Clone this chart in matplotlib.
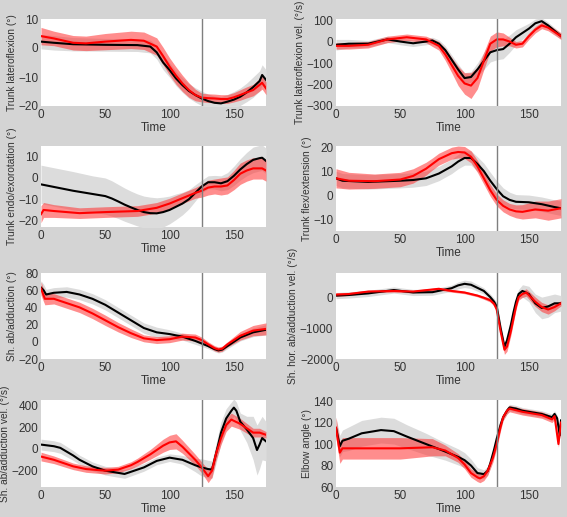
import numpy as np
import matplotlib
matplotlib.use("Agg")
import matplotlib.pyplot as plt

plt.rcParams['font.family'] = ['Liberation Sans', 'DejaVu Sans']

BG = '#d4d4d4'
GREY_BAND = '#dcdcdc'
RED_BAND = '#ff3030'
VLINE = '#7f7f7f'
EVENT_T = 125

# ---- Trunk lateroflexion (deg)
t1_k = [0, 10, 25, 50, 75, 85, 90, 95, 100, 105, 110, 115, 120, 125, 130, 135, 140, 145, 150, 155, 160, 165, 170, 172, 175]
m1_k = [2.2, 1.8, 1.3, 1.1, 1.0, 0.5, -1.5, -5, -7.6, -10.5, -12.8, -14.8, -16.2, -17.4, -18.3, -18.9, -19.1, -18.5, -17.8, -16.8, -15.3, -13.5, -11.4, -9.3, -11]
s1_k = [2.5, 2.5, 2.3, 2.2, 2.2, 2.2, 2.3, 2.5, 2.5, 2.5, 2.5, 2.5, 2.5, 2.5, 2.4, 2.3, 2.3, 2.5, 2.8, 3.0, 3.2, 3.5, 3.5, 3.5, 3.5]
t1_r = [0, 10, 25, 35, 50, 70, 80, 90, 95, 100, 105, 110, 115, 120, 125, 130, 135, 140, 145, 150, 155, 160, 165, 172, 175]
m1_r = [4.1, 3.3, 1.8, 1.6, 2.2, 2.8, 2.5, 0.5, -2.8, -6.4, -9.5, -12.2, -14.5, -16.2, -17.1, -17.3, -17.4, -17.6, -17.6, -17.0, -16.2, -15.3, -14.5, -12, -13.9]
s1_r = [3.0, 2.5, 2.5, 2.5, 2.8, 3.0, 3.0, 3.0, 3.0, 3.0, 3.0, 2.8, 2.5, 2.0, 1.5, 1.5, 1.5, 1.5, 1.5, 1.6, 1.8, 1.9, 2.0, 2.2, 2.2]

# ---- Trunk lateroflexion velocity (deg/s)
t2_k = [0, 10, 25, 40, 50, 60, 70, 75, 80, 85, 90, 95, 100, 105, 110, 115, 120, 125, 130, 135, 140, 145, 150, 155, 160, 165, 170, 175]
m2_k = [-15, -10, -10, 10, 0, -8, 0, 5, -10, -40, -85, -130, -170, -165, -130, -90, -50, -40, -35, -10, 20, 40, 60, 85, 95, 75, 50, 25]
s2_k = [25, 20, 15, 15, 15, 15, 15, 15, 18, 20, 22, 25, 25, 25, 30, 40, 45, 45, 45, 40, 35, 30, 25, 20, 15, 15, 15, 15]
t2_r = [0, 10, 25, 40, 55, 70, 75, 80, 85, 90, 95, 100, 105, 110, 115, 120, 125, 130, 135, 140, 145, 150, 155, 160, 165, 170, 175]
m2_r = [-20, -20, -15, 10, 20, 10, -5, -20, -60, -110, -160, -195, -205, -170, -90, -10, 10, 10, 0, -15, -10, 25, 55, 75, 65, 45, 25]
s2_r = [15, 15, 15, 15, 15, 15, 18, 20, 28, 35, 45, 50, 60, 50, 40, 35, 35, 30, 20, 15, 15, 15, 15, 15, 15, 15, 15]

# ---- Trunk endo/exorotation (deg)
t3_k = [0, 25, 40, 50, 55, 60, 65, 70, 75, 80, 85, 90, 95, 100, 105, 110, 115, 120, 125, 130, 135, 140, 145, 150, 155, 160, 165, 170, 172, 175]
m3_k = [-3, -6, -7.5, -8.5, -9.6, -11, -12.5, -13.8, -15, -16, -16.5, -16.6, -16, -15, -13.5, -12, -10, -7, -4, -2, -2, -2.5, -1.5, 1, 4, 6.5, 8.5, 9.3, 9.5, 8]
s3_k = [9, 9, 8.5, 8.5, 8.3, 8, 7.8, 7.6, 7.5, 7.5, 7.5, 7.3, 7, 6.5, 6, 5.3, 4.5, 3.8, 3, 3, 3.2, 3.5, 4, 4.5, 5, 5.5, 6, 6, 6, 6]
t3_r = [0, 2, 10, 30, 50, 75, 90, 100, 110, 120, 125, 130, 135, 140, 145, 150, 155, 160, 165, 172, 175]
m3_r = [-17, -15, -15.5, -16.5, -16, -15.5, -14, -12, -9.5, -7, -6, -4.5, -4, -4, -3.5, -1, 2, 3.5, 4.5, 4.5, 3.5]
s3_r = [4, 3.5, 3, 2.5, 2.5, 2.5, 2.5, 2.5, 2.5, 2.5, 3, 3.5, 3.5, 4, 4, 4.5, 5, 5, 5, 5, 5]

# ---- Trunk flex/extension (deg)
t4_k = [0, 5, 25, 50, 60, 70, 80, 90, 95, 100, 105, 110, 115, 120, 125, 130, 135, 140, 150, 160, 170, 175]
m4_k = [7, 6, 5.5, 6, 6.3, 7, 9, 12, 14, 15.5, 15.5, 13, 10, 6, 2.5, -0.5, -2, -2.8, -3, -3.8, -5, -5.5]
s4_k = [3, 3, 3, 3, 3, 3, 3, 3, 3, 3, 3, 3, 3.3, 3.5, 3.5, 3.5, 3.2, 3, 3, 3, 3, 3]
t4_r = [0, 10, 30, 50, 60, 70, 75, 80, 90, 95, 100, 105, 110, 115, 120, 125, 130, 135, 140, 145, 155, 165, 175]
m4_r = [7, 6, 5.8, 6.5, 8, 11, 13, 15, 17.5, 18, 17.8, 16, 12, 7, 2, -2, -4.5, -6, -6.8, -7, -6, -6.5, -5.5]
s4_r = [4, 3.5, 3, 3, 3, 2.7, 2.5, 2.5, 2.5, 2.5, 2.5, 2.5, 2.5, 2.5, 2.5, 2.5, 2.5, 2.5, 2.7, 3, 3.5, 4, 4]

# ---- Shoulder ab/adduction (deg)
t5_k = [0, 2, 4, 10, 20, 30, 40, 50, 60, 70, 80, 90, 100, 110, 120, 125, 130, 135, 138, 141, 145, 150, 155, 165, 175]
m5_k = [63, 60, 55, 57, 58, 55, 50, 43, 34, 25, 16, 11, 9, 6, 1, -2, -5, -8.5, -10, -9, -5, 0, 5, 11, 14]
s5_k = [8, 7, 6, 6, 6, 6, 6, 6, 6, 6, 6, 6, 5, 4, 4, 3.5, 3, 3, 3, 3, 3, 3.5, 4, 5, 6]
t5_r = [0, 3, 10, 20, 30, 40, 50, 60, 70, 80, 90, 100, 110, 120, 125, 130, 135, 138, 141, 145, 150, 155, 165, 175]
m5_r = [62, 50, 50, 45, 40, 33, 25, 17, 10, 4, 2, 3, 6, 5, 2, -3, -7.5, -9, -8, -3, 2, 7, 13, 15]
s5_r = [8, 7, 6, 6, 6, 6, 6, 5.5, 5, 4, 4, 4, 4, 4, 3.5, 3, 3, 3, 3, 3, 4, 5, 6, 7]

# ---- Shoulder horizontal ab/adduction velocity (deg/s)
t6_k = [0, 10, 25, 45, 60, 75, 90, 95, 100, 105, 110, 115, 120, 123, 125, 128, 131, 133, 136, 138, 140, 142, 145, 150, 155, 160, 165, 170, 175]
m6_k = [50, 70, 120, 230, 150, 160, 290, 380, 430, 400, 300, 200, 0, -150, -300, -1000, -1600, -1400, -900, -500, -150, 100, 200, 100, -200, -350, -300, -200, -200]
s6_k = [100, 100, 100, 100, 100, 100, 100, 110, 120, 120, 110, 100, 100, 110, 120, 150, 150, 150, 150, 150, 150, 150, 200, 250, 300, 350, 350, 300, 250]
t6_r = [0, 10, 25, 45, 60, 80, 90, 100, 110, 115, 120, 123, 125, 128, 131, 133, 136, 138, 140, 142, 145, 148, 155, 160, 165, 170, 175]
m6_r = [80, 100, 180, 200, 180, 270, 200, 150, 50, -20, -100, -220, -400, -1100, -1700, -1600, -1100, -700, -300, 0, 100, 150, -150, -320, -400, -320, -200]
s6_r = [60, 50, 40, 40, 40, 40, 40, 40, 40, 50, 60, 70, 80, 120, 150, 150, 140, 120, 110, 100, 110, 120, 150, 150, 150, 120, 80]

# ---- Shoulder ab/adduction velocity (deg/s)
t7_k = [0, 10, 15, 20, 25, 30, 40, 50, 65, 80, 90, 100, 110, 120, 125, 130, 133, 136, 140, 144, 148, 150, 152, 155, 160, 165, 168, 170, 172, 175]
m7_k = [40, 25, 10, -25, -60, -100, -160, -200, -230, -170, -110, -80, -100, -150, -170, -185, -190, -50, 150, 280, 350, 380, 350, 250, 180, 100, -10, 40, 100, 70]
s7_k = [50, 50, 50, 48, 45, 42, 40, 40, 40, 35, 35, 35, 40, 60, 80, 80, 80, 90, 100, 90, 80, 80, 80, 80, 120, 200, 230, 220, 200, 180]
t7_r = [0, 10, 20, 25, 35, 50, 60, 70, 75, 85, 95, 100, 105, 110, 115, 120, 125, 130, 133, 136, 140, 144, 148, 155, 165, 170, 175]
m7_r = [-70, -100, -140, -160, -185, -200, -190, -150, -120, -50, 30, 60, 70, 20, -40, -100, -170, -250, -200, -50, 100, 220, 270, 230, 150, 150, 130]
s7_r = [40, 35, 32, 30, 30, 30, 30, 32, 35, 45, 60, 65, 70, 60, 55, 50, 50, 60, 60, 60, 60, 60, 60, 50, 40, 40, 30]

# ---- Elbow angle (deg)
t8_k = [0, 3, 5, 10, 20, 35, 45, 55, 70, 85, 95, 100, 105, 110, 115, 118, 120, 123, 125, 128, 130, 133, 135, 140, 145, 160, 168, 170, 172, 174, 175]
m8_k = [115, 98, 103, 105, 110, 113, 112, 107, 100, 93, 88, 85, 80, 73, 72, 75, 82, 95, 105, 118, 125, 131, 134, 133, 131, 128, 125, 128, 124, 108, 122]
s8_k = [10, 10, 10, 11, 12, 12, 12, 11, 10, 8, 7.5, 7, 6, 5, 4, 4, 4, 4, 4, 3.5, 3, 3, 3, 3, 3, 3, 3, 3, 3, 3, 3]
t8_r = [0, 3, 5, 20, 50, 75, 85, 95, 100, 105, 110, 112, 115, 118, 122, 125, 128, 130, 133, 135, 145, 160, 168, 170, 173, 175]
m8_r = [115, 92, 96, 96, 96, 97, 94, 87, 81, 73, 69, 68, 70, 75, 87, 100, 116, 125, 131, 133, 130, 127, 123, 126, 100, 120]
s8_r = [10, 10, 10, 10, 10, 8, 5, 4, 4, 4, 4, 4, 4, 4, 4, 4, 3.5, 3, 3, 3, 3, 3, 3, 3, 3, 3]

panels = [
    ('Trunk lateroflexion (°)', (-20, 10), [-20, -10, 0, 10], (t1_k, m1_k, s1_k), (t1_r, m1_r, s1_r)),
    ('Trunk lateroflexion vel. (°/s)', (-300, 105), [-300, -200, -100, 0, 100], (t2_k, m2_k, s2_k), (t2_r, m2_r, s2_r)),
    ('Trunk endo/exorotation (°)', (-23, 15), [-20, -10, 0, 10], (t3_k, m3_k, s3_k), (t3_r, m3_r, s3_r)),
    ('Trunk flex/extension (°)', (-15, 20.5), [-10, 0, 10, 20], (t4_k, m4_k, s4_k), (t4_r, m4_r, s4_r)),
    ('Sh. ab/adduction (°)', (-20, 80), [-20, 0, 20, 40, 60, 80], (t5_k, m5_k, s5_k), (t5_r, m5_r, s5_r)),
    ('Sh. hor. ab/adduction vel. (°/s)', (-2000, 780), [-2000, -1000, 0], (t6_k, m6_k, s6_k), (t6_r, m6_r, s6_r)),
    ('Sh. ab/adduction vel. (°/s)', (-350, 450), [-200, 0, 200, 400], (t7_k, m7_k, s7_k), (t7_r, m7_r, s7_r)),
    ('Elbow angle (°)', (60, 141), [60, 80, 100, 120, 140], (t8_k, m8_k, s8_k), (t8_r, m8_r, s8_r)),
]

# axes boxes in pixels: (x0, x1, ytop, ybottom)
W, H = 567, 517
boxes = [
    (41, 266, 19, 106), (336, 561, 19, 106),
    (41, 266, 146, 227), (336, 561, 146, 231),
    (41, 266, 273, 359), (336, 561, 273, 359),
    (41, 266, 400, 487), (336, 561, 400, 487),
]

fig = plt.figure(figsize=(W / 100, H / 100), dpi=100, facecolor=BG)

for (label, ylim, yticks, blk, red), (x0, x1, yt, yb) in zip(panels, boxes):
    ax = fig.add_axes([x0 / W, (H - yb) / H, (x1 - x0) / W, (yb - yt) / H])
    tk, mk, sk = [np.array(v, dtype=float) for v in blk]
    tr, mr, sr = [np.array(v, dtype=float) for v in red]
    ax.fill_between(tk, mk - sk, mk + sk, color=GREY_BAND, lw=0, zorder=1)
    ax.fill_between(tr, mr - sr, mr + sr, color=RED_BAND, alpha=0.55, lw=0, zorder=2)
    ax.plot(tk, mk, color='black', lw=1.5, zorder=3, solid_joinstyle='round')
    ax.plot(tr, mr, color='#ff0000', lw=1.5, zorder=4, solid_joinstyle='round')
    ax.axvline(EVENT_T, color=VLINE, lw=1, zorder=5)
    ax.set_xlim(0, 175)
    ax.set_ylim(*ylim)
    ax.set_xticks([0, 50, 100, 150])
    ax.set_yticks(yticks)
    for sp in ax.spines.values():
        sp.set_visible(False)
    ax.tick_params(length=0, labelsize=8.5, labelcolor='#333333', pad=2)
    ax.set_xlabel('Time', fontsize=8.5, color='#333333', labelpad=1)
    ax.set_ylabel(label, fontsize=7.3, color='#333333', labelpad=1)

fig.savefig('out.png', dpi=100, facecolor=BG)
